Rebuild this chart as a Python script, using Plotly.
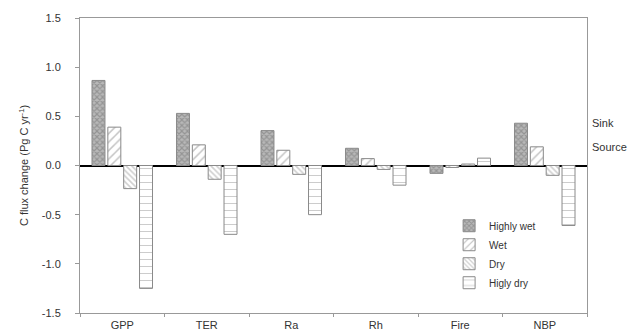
import plotly.graph_objects as go

categories = ["GPP", "TER", "Ra", "Rh", "Fire", "NBP"]
highly_wet = [0.865, 0.53, 0.355, 0.175, -0.08, 0.43]
wet = [0.39, 0.21, 0.155, 0.07, -0.02, 0.19]
dry = [-0.235, -0.14, -0.09, -0.04, 0.015, -0.10]
highly_dry = [-1.25, -0.70, -0.50, -0.20, 0.075, -0.61]
series_names = ["Highly wet", "Wet", "Dry", "Higly dry"]
y_ticks = [-1.5, -1.0, -0.5, 0.0, 0.5, 1.0, 1.5]
y_tick_text = ["-1.5", "-1.0", "-0.5", "0.0", "0.5", "1.0", "1.5"]

styles = [
    dict(shape="x", bgcolor="#b8b8b8", fgcolor="#707070", size=4, solidity=0.5),
    dict(shape="/", bgcolor="white", fgcolor="#8a8a8a", size=6, solidity=0.25),
    dict(shape="\\", bgcolor="white", fgcolor="#a0a0a0", size=4, solidity=0.4),
    dict(shape="-", bgcolor="white", fgcolor="#9a9a9a", size=7, solidity=0.15),
]

fig = go.Figure()
for name, vals, st in zip(series_names, [highly_wet, wet, dry, highly_dry], styles):
    fig.add_trace(go.Bar(
        x=categories, y=vals, name=name,
        marker=dict(color="white", line=dict(color="#8a8a8a", width=1),
                    pattern=st),
    ))

font = dict(family="Liberation Sans, Arial, sans-serif", size=11, color="#333333")
fig.update_layout(
    width=627, height=324,
    margin=dict(l=72, r=48, t=10, b=19, autoexpand=False),
    paper_bgcolor="white", plot_bgcolor="white",
    barmode="group", bargap=0.25, bargroupgap=0.18,
    font=font,
    showlegend=True,
    legend=dict(x=0.728, y=0.345, xanchor="left", yanchor="top",
                bgcolor="rgba(0,0,0,0)", font=dict(size=10, color="#333"),
                itemwidth=30, tracegroupgap=0),
    xaxis=dict(showline=True, linecolor="#999", linewidth=1, mirror=True,
               tickson="boundaries", ticks="outside", ticklen=3, tickcolor="#999",
               showgrid=False, ticklabelstandoff=2, automargin=False),
    yaxis=dict(range=[-1.5, 1.5], tickvals=y_ticks, ticktext=y_tick_text,
               showline=True, linecolor="#999", linewidth=1, mirror=True,
               ticks="outside", ticklen=4, tickcolor="#999", ticklabelstandoff=12,
               showgrid=False, zeroline=True, zerolinecolor="black", zerolinewidth=2,
               automargin=False,
               title=dict(text="C flux change (Pg C yr<sup>-1</sup>)", standoff=10,
                          font=dict(size=11, color="#333"))),
)
fig.add_annotation(text="Sink", x=1.005, y=0.43, xref="paper", yref="y",
                   xanchor="left", showarrow=False, font=dict(size=11, color="#333"))
fig.add_annotation(text="Source", x=1.005, y=0.19, xref="paper", yref="y",
                   xanchor="left", showarrow=False, font=dict(size=11, color="#333"))

fig.write_html("out.html")
